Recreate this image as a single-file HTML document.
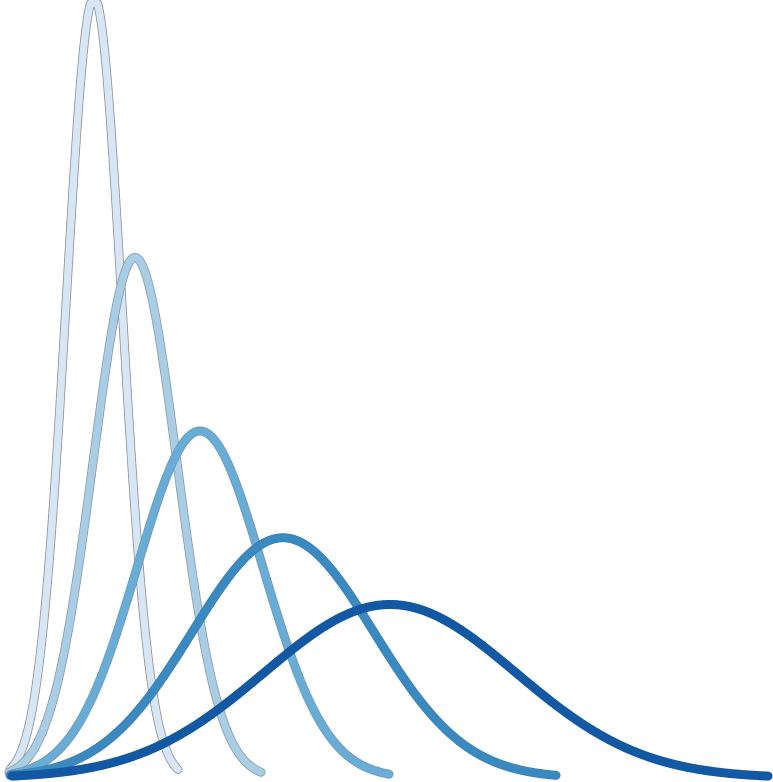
<!DOCTYPE html>
<html><head><meta charset="utf-8"><style>html,body{margin:0;padding:0;background:#fff}svg{display:block}</style></head>
<body>
<svg id="chart" width="773" height="782" xmlns="http://www.w3.org/2000/svg"></svg>
<script>
const seriesNames = ['dist-1','dist-2','dist-3','dist-4','dist-5'];
const means = [8.4, 12.5, 19.0, 27.3, 38.0];
const sds = [2.8, 4.2, 6.3, 9.1, 12.6];
const colors = ['#d6e6f4','#a9cde4','#69acd5','#3a89c1','#1258a2'];
const outlines = ['#8a8f96','#8a9aa8','#6c98b8','#3a7fb3','#1258a2'];
const xScale = v => 10 + v * 10;
const K = 5480;
const yScale = d => 778 - d * K;
const svg = document.getElementById('chart');
const NS = 'http://www.w3.org/2000/svg';
means.forEach((m, i) => {
  const s = sds[i];
  const pts = [];
  const n = 300;
  for (let j = 0; j <= n; j++) {
    const v = (m - 3 * s) + 6 * s * j / n;
    const d = Math.exp(-((v - m) ** 2) / (2 * s * s)) / (s * Math.sqrt(2 * Math.PI));
    pts.push(xScale(v).toFixed(2) + ',' + Math.max(3.5, yScale(d)).toFixed(2));
  }
  const dstr = 'M' + pts.join('L');
  const g = document.createElementNS(NS, 'g');
  
  
  const o = document.createElementNS(NS, 'path');
  
  
  o.setAttribute('d', dstr);
  o.setAttribute('fill', 'none');
  o.setAttribute('stroke', outlines[i]);
  o.setAttribute('stroke-width', '9');
  o.setAttribute('stroke-linecap', 'round');
  o.setAttribute('stroke-linejoin', 'round');
  const p = document.createElementNS(NS, 'path');
  
  
  p.setAttribute('d', dstr);
  p.setAttribute('fill', 'none');
  p.setAttribute('stroke', colors[i]);
  p.setAttribute('stroke-width', '7.4');
  p.setAttribute('stroke-linecap', 'round');
  p.setAttribute('stroke-linejoin', 'round');
  g.appendChild(o);
  g.appendChild(p);
  svg.appendChild(g);
});
</script>
</body></html>
